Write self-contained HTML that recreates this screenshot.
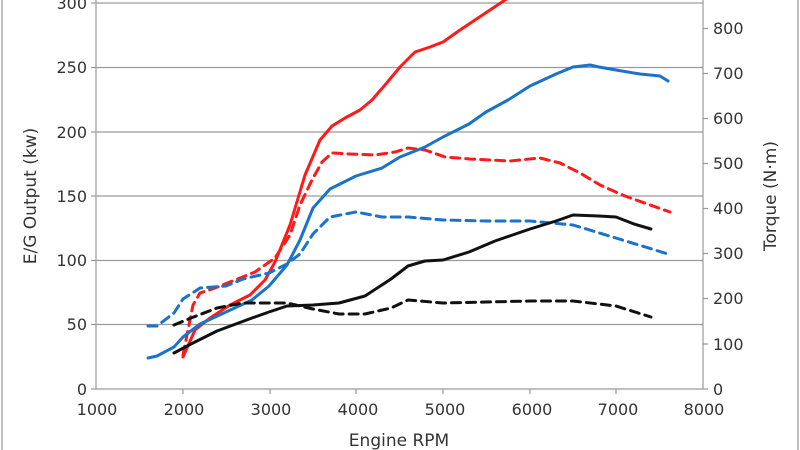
<!DOCTYPE html>
<html><head><meta charset="utf-8"><style>
html,body{margin:0;padding:0;background:#fff;width:800px;height:450px;overflow:hidden}
svg{display:block;font-family:"DejaVu Sans","Liberation Sans",sans-serif}
</style></head><body>
<svg width="800" height="450" viewBox="0 0 800 450">
<rect x="2" y="-2" width="796" height="460" fill="#fff" stroke="#aaa" stroke-width="1.5"/>
<g stroke="#9a9a9a" stroke-width="1.2">
<line x1="96" y1="3" x2="703" y2="3"/>
<line x1="96" y1="67.5" x2="703" y2="67.5"/>
<line x1="96" y1="132" x2="703" y2="132"/>
<line x1="96" y1="196" x2="703" y2="196"/>
<line x1="96" y1="260.5" x2="703" y2="260.5"/>
<line x1="96" y1="324.5" x2="703" y2="324.5"/>
<line x1="96" y1="0" x2="96" y2="389"/>
<line x1="703" y1="0" x2="703" y2="389"/>
<line x1="91" y1="389" x2="708" y2="389"/>
</g>
<g stroke="#9a9a9a" stroke-width="1.2">
<line x1="91" y1="3" x2="96" y2="3"/><line x1="91" y1="67.5" x2="96" y2="67.5"/><line x1="91" y1="132" x2="96" y2="132"/><line x1="91" y1="196" x2="96" y2="196"/><line x1="91" y1="260.5" x2="96" y2="260.5"/><line x1="91" y1="324.5" x2="96" y2="324.5"/>
<line x1="703" y1="28.5" x2="708" y2="28.5"/><line x1="703" y1="73.5" x2="708" y2="73.5"/><line x1="703" y1="118.5" x2="708" y2="118.5"/><line x1="703" y1="163.5" x2="708" y2="163.5"/><line x1="703" y1="208.5" x2="708" y2="208.5"/><line x1="703" y1="253.5" x2="708" y2="253.5"/><line x1="703" y1="298.5" x2="708" y2="298.5"/><line x1="703" y1="344" x2="708" y2="344"/>
<line x1="183" y1="389" x2="183" y2="394"/><line x1="270" y1="389" x2="270" y2="394"/><line x1="356" y1="389" x2="356" y2="394"/><line x1="443" y1="389" x2="443" y2="394"/><line x1="530" y1="389" x2="530" y2="394"/><line x1="616" y1="389" x2="616" y2="394"/>
</g>
<g font-size="16" fill="#333" text-anchor="end">
<text x="87" y="9">300</text><text x="87" y="73">250</text><text x="87" y="138">200</text><text x="87" y="202">150</text><text x="87" y="266">100</text><text x="87" y="330">50</text><text x="87" y="395">0</text>
</g>
<g font-size="16" fill="#333">
<text x="713" y="34">800</text><text x="713" y="79">700</text><text x="713" y="124">600</text><text x="713" y="169">500</text><text x="713" y="214">400</text><text x="713" y="259">300</text><text x="713" y="304">200</text><text x="713" y="350">100</text><text x="713" y="395">0</text>
</g>
<g font-size="16" fill="#333" text-anchor="middle">
<text x="97" y="415">1000</text><text x="184" y="415">2000</text><text x="271" y="415">3000</text><text x="358" y="415">4000</text><text x="445" y="415">5000</text><text x="532" y="415">6000</text><text x="618" y="415">7000</text><text x="704" y="415">8000</text>
<text x="399" y="446" font-size="17">Engine RPM</text>
<text transform="translate(36,196) rotate(-90)" font-size="17">E/G Output (kw)</text>
<text transform="translate(776,196) rotate(-90)" font-size="17">Torque (N·m)</text>
</g>
<g fill="none" stroke-width="3" stroke-linejoin="round" stroke-linecap="round">
<polyline stroke="#ff1a1a" points="183,357 195,330 210,318 230,305 250,295 265,280 275,262 290,225 305,175 320,140 332,126 345,118 360,110 372,100 385,85 400,67 415,52 430,47 443,42 460,30 475,20 490,10 505,0 515,-6"/>
<polyline stroke="#ff1a1a" stroke-dasharray="9,6" points="183,355 193,305 200,293 215,288 235,280 255,272 275,258 290,235 300,205 312,180 322,162 332,153 350,154 375,155 395,152 408,148 425,150 445,157 470,159 510,161 540,158 560,163 580,173 600,185 625,196 650,205 670,212"/>
<polyline stroke="#1a73c8" points="148,358 157,356 174,347 183,337 200,324 226,312 252,300 269,286 287,265 300,240 313,208 330,189 356,176 382,168 400,157 425,147 443,137 469,124 486,112 508,100 530,86 556,74 573,67 590,65 599,67 616,70 640,74 660,76 668,81"/>
<polyline stroke="#1a73c8" stroke-dasharray="9,6" points="148,326 157,326 174,313 183,299 200,288 226,286 243,279 269,273 287,264 300,254 313,234 330,217 356,212 382,217 408,217 443,220 486,221 530,221 573,225 616,238 668,254"/>
<polyline stroke="#111" points="174,353 191,344 217,331 252,318 269,312 287,306 313,305 339,303 365,296 391,279 408,266 425,261 443,260 469,252 495,241 530,229 556,221 573,215 599,216 616,217 634,224 651,229"/>
<polyline stroke="#111" stroke-dasharray="9,6" points="174,325 191,318 217,308 243,303 287,303 313,309 339,314 365,314 391,308 408,300 443,303 530,301 573,301 616,306 651,317"/>
</g>
</svg>
</body></html>
